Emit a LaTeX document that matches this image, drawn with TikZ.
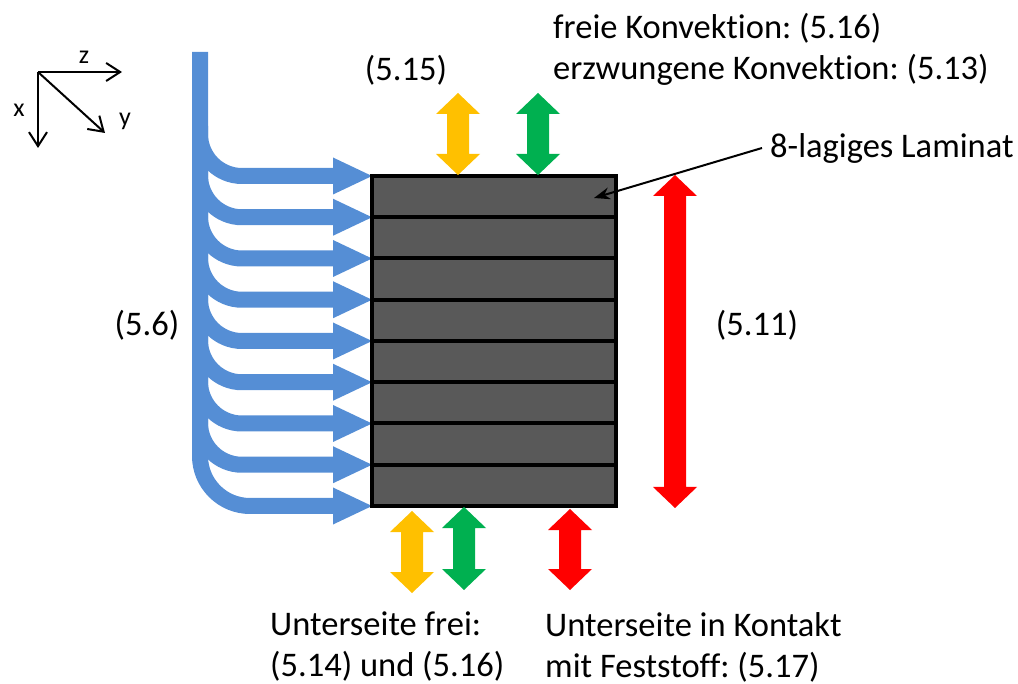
\documentclass[tikz,border=0pt]{standalone}
\usepackage{fontspec}
\setmainfont[Ligatures=NoCommon]{Carlito}
\frenchspacing
\usetikzlibrary{arrows.meta}

\definecolor{stromblau}{RGB}{85,142,213}
\definecolor{laminatgrau}{RGB}{89,89,89}
\definecolor{ampelgelb}{RGB}{255,192,0}
\definecolor{ampelgruen}{RGB}{0,176,80}
\definecolor{ampelrot}{RGB}{255,0,0}

\tikzset{
  strom/.style={draw=stromblau, line width=16pt},
  achse/.style={line width=2pt, -{Straight Barb[length=14pt,width=18pt]}},
  txt/.style={inner sep=0pt, align=left, font=\fontsize{34.5}{41}\selectfont},
  achstxt/.style={inner sep=0pt, font=\fontsize{26}{30}\selectfont},
}

% Blockpfeil mit zwei Spitzen: Farbe, x, y oben, y unten
\newcommand{\doppelpfeil}[4]{%
  \fill[#1] (#2,#3) -- (#2+22,#3+21) -- (#2+11,#3+21) -- (#2+11,#4-21)
    -- (#2+22,#4-21) -- (#2,#4) -- (#2-22,#4-21) -- (#2-11,#4-21)
    -- (#2-11,#3+21) -- (#2-22,#3+21) -- cycle;}
% Spitze eines Stroemungspfeils auf Hoehe y
\newcommand{\stromkopf}[1]{%
  \fill[stromblau] (333,#1-18.5) -- (372,#1) -- (333,#1+18.5) -- cycle;}

\begin{document}
\begin{tikzpicture}[x=1pt, y=-1pt]
  \useasboundingbox (0,0) rectangle (1018,684);

  % Koordinatensystem oben links
  \coordinate (O) at (38,72);
  \coordinate (Z) at (122,72);
  \coordinate (X) at (38,148);
  \coordinate (Y) at (105,133);
  \draw[achse] (O) -- (Z);
  \draw[achse] (O) -- (X);
  \draw[achse] (O) -- (Y);
  \node[achstxt] (zl) at (84,57) {z};
  \node[achstxt] (xl) at (19,110) {x};
  \node[achstxt] (yl) at (125,121) {y};

  % Anstroemung: Stamm mit Abzweigen auf jede Lagengrenze
  \foreach \k in {0,...,7} {
    \pgfmathsetmacro\yk{176+41.25*\k}
    \draw[strom, rounded corners=42pt] (200,\yk-50) |- (336,\yk);
    \stromkopf{\yk}
  }
  \draw[strom, rounded corners=50pt] (200,52) |- (336,506);
  \stromkopf{506}

  % Laminat aus 8 Lagen
  \node[draw, line width=4pt, fill=laminatgrau, inner sep=0pt,
        minimum width=244pt, minimum height=330pt] (lam) at (494,341) {};
  \foreach \k in {1,...,7}
    \draw[line width=4pt] (372,176+41.25*\k) -- (616,176+41.25*\k);

  % Randbedingungen oben
  \doppelpfeil{ampelgelb}{458}{93}{175}
  \doppelpfeil{ampelgruen}{538}{93}{175}
  % Randbedingungen unten
  \doppelpfeil{ampelgelb}{412}{511}{593}
  \doppelpfeil{ampelgruen}{464}{507}{590}
  \doppelpfeil{ampelrot}{570}{509}{590}
  % Waermeleitung in Dickenrichtung
  \doppelpfeil{ampelrot}{675}{175}{508}

  % Beschriftungen
  \node[txt, anchor=west] (konv) at (553,49)
    {freie Konvektion: (5.16)\\erzwungene Konvektion: (5.13)};
  \node[txt] (strahl) at (406,70) {(5.15)};
  \node[txt] (anstr) at (147,325) {(5.6)};
  \node[txt] (leit) at (757,325) {(5.11)};
  \node[txt, anchor=west] (frei) at (270,647)
    {Unterseite frei:\\(5.14) und (5.16)};
  \node[txt, anchor=west] (kont) at (545,647)
    {Unterseite in Kontakt\\mit Feststoff: (5.17)};

  % Hinweis auf das Laminat
  \node[txt, anchor=west] (lamtxt) at (770,148) {8-lagiges Laminat};
  \coordinate (lamziel) at (594,198);
  \draw[line width=2pt, -{Stealth[length=16pt,width=12pt]}]
    ([xshift=-8pt]lamtxt.west) -- (lamziel);
\end{tikzpicture}
\end{document}
